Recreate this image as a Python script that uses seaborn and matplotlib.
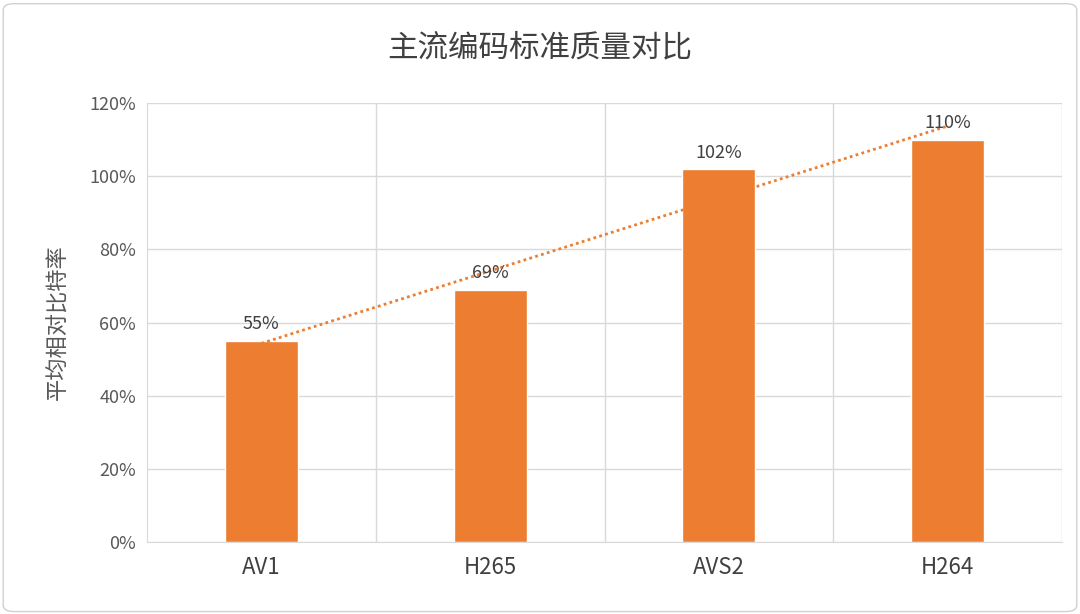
import matplotlib
matplotlib.use("Agg")
import matplotlib.pyplot as plt
import seaborn as sns
import numpy as np
import pandas as pd
from matplotlib.patches import FancyBboxPatch

categories = ["AV1", "H265", "AVS2", "H264"]
values = [55, 69, 102, 110]
labels = ["55%", "69%", "102%", "110%"]

sns.set_style("white")
plt.rcParams['font.family'] = ['Noto Sans CJK SC', 'DejaVu Sans']

fig = plt.figure(figsize=(10.8, 6.14), dpi=100)
ax = fig.add_axes([147/1080, 72/614, (1062-147)/1080, (542-103)/614])
df = pd.DataFrame({"cat": categories, "val": values})
sns.barplot(data=df, x="cat", y="val", color="#ED7D31", saturation=1, width=0.32, ax=ax)

x = np.arange(len(values))
k, b = np.polyfit(x, values, 1)
ax.plot(x, k * x + b, linestyle=(0, (1, 1.2)), color="#ED7D31", lw=2)

for i, (v, t) in enumerate(zip(values, labels)):
    ax.text(i, v + 2, t, ha="center", va="bottom", fontsize=13, color="#404040")

ax.set_ylim(0, 120)
ax.set_yticks(range(0, 121, 20))
ax.set_yticklabels([f"{t}%" for t in range(0, 121, 20)], fontsize=13, color="#595959")
ax.set_xlim(-0.5, 3.5)
ax.tick_params(axis="x", labelsize=16, colors="#404040", length=0, pad=10)
ax.tick_params(axis="y", length=0, pad=8)
ax.set_xlabel("")
ax.set_ylabel("平均相对比特率", fontsize=16, color="#595959", labelpad=14)
ax.yaxis.grid(True, color="#D9D9D9", lw=1)
for xv in [0.5, 1.5, 2.5, 3.5]:
    ax.axvline(xv, color="#D9D9D9", lw=1, zorder=0)
ax.set_axisbelow(True)
for s in ["top", "right", "left"]:
    ax.spines[s].set_visible(False)
ax.spines["bottom"].set_color("#D9D9D9")
ax.spines["left"].set_visible(True)
ax.spines["left"].set_color("#D9D9D9")

fig.text(0.5, 1 - 48/614, "主流编码标准质量对比", ha="center", va="center", fontsize=22, color="#404040")
fig.patches.append(FancyBboxPatch((0.003, 0.004), 0.994, 0.99, boxstyle="round,pad=0,rounding_size=0.01",
                                  transform=fig.transFigure, fill=False, ec="#D0D0D0", lw=1))
fig.savefig("out.png", dpi=100)
